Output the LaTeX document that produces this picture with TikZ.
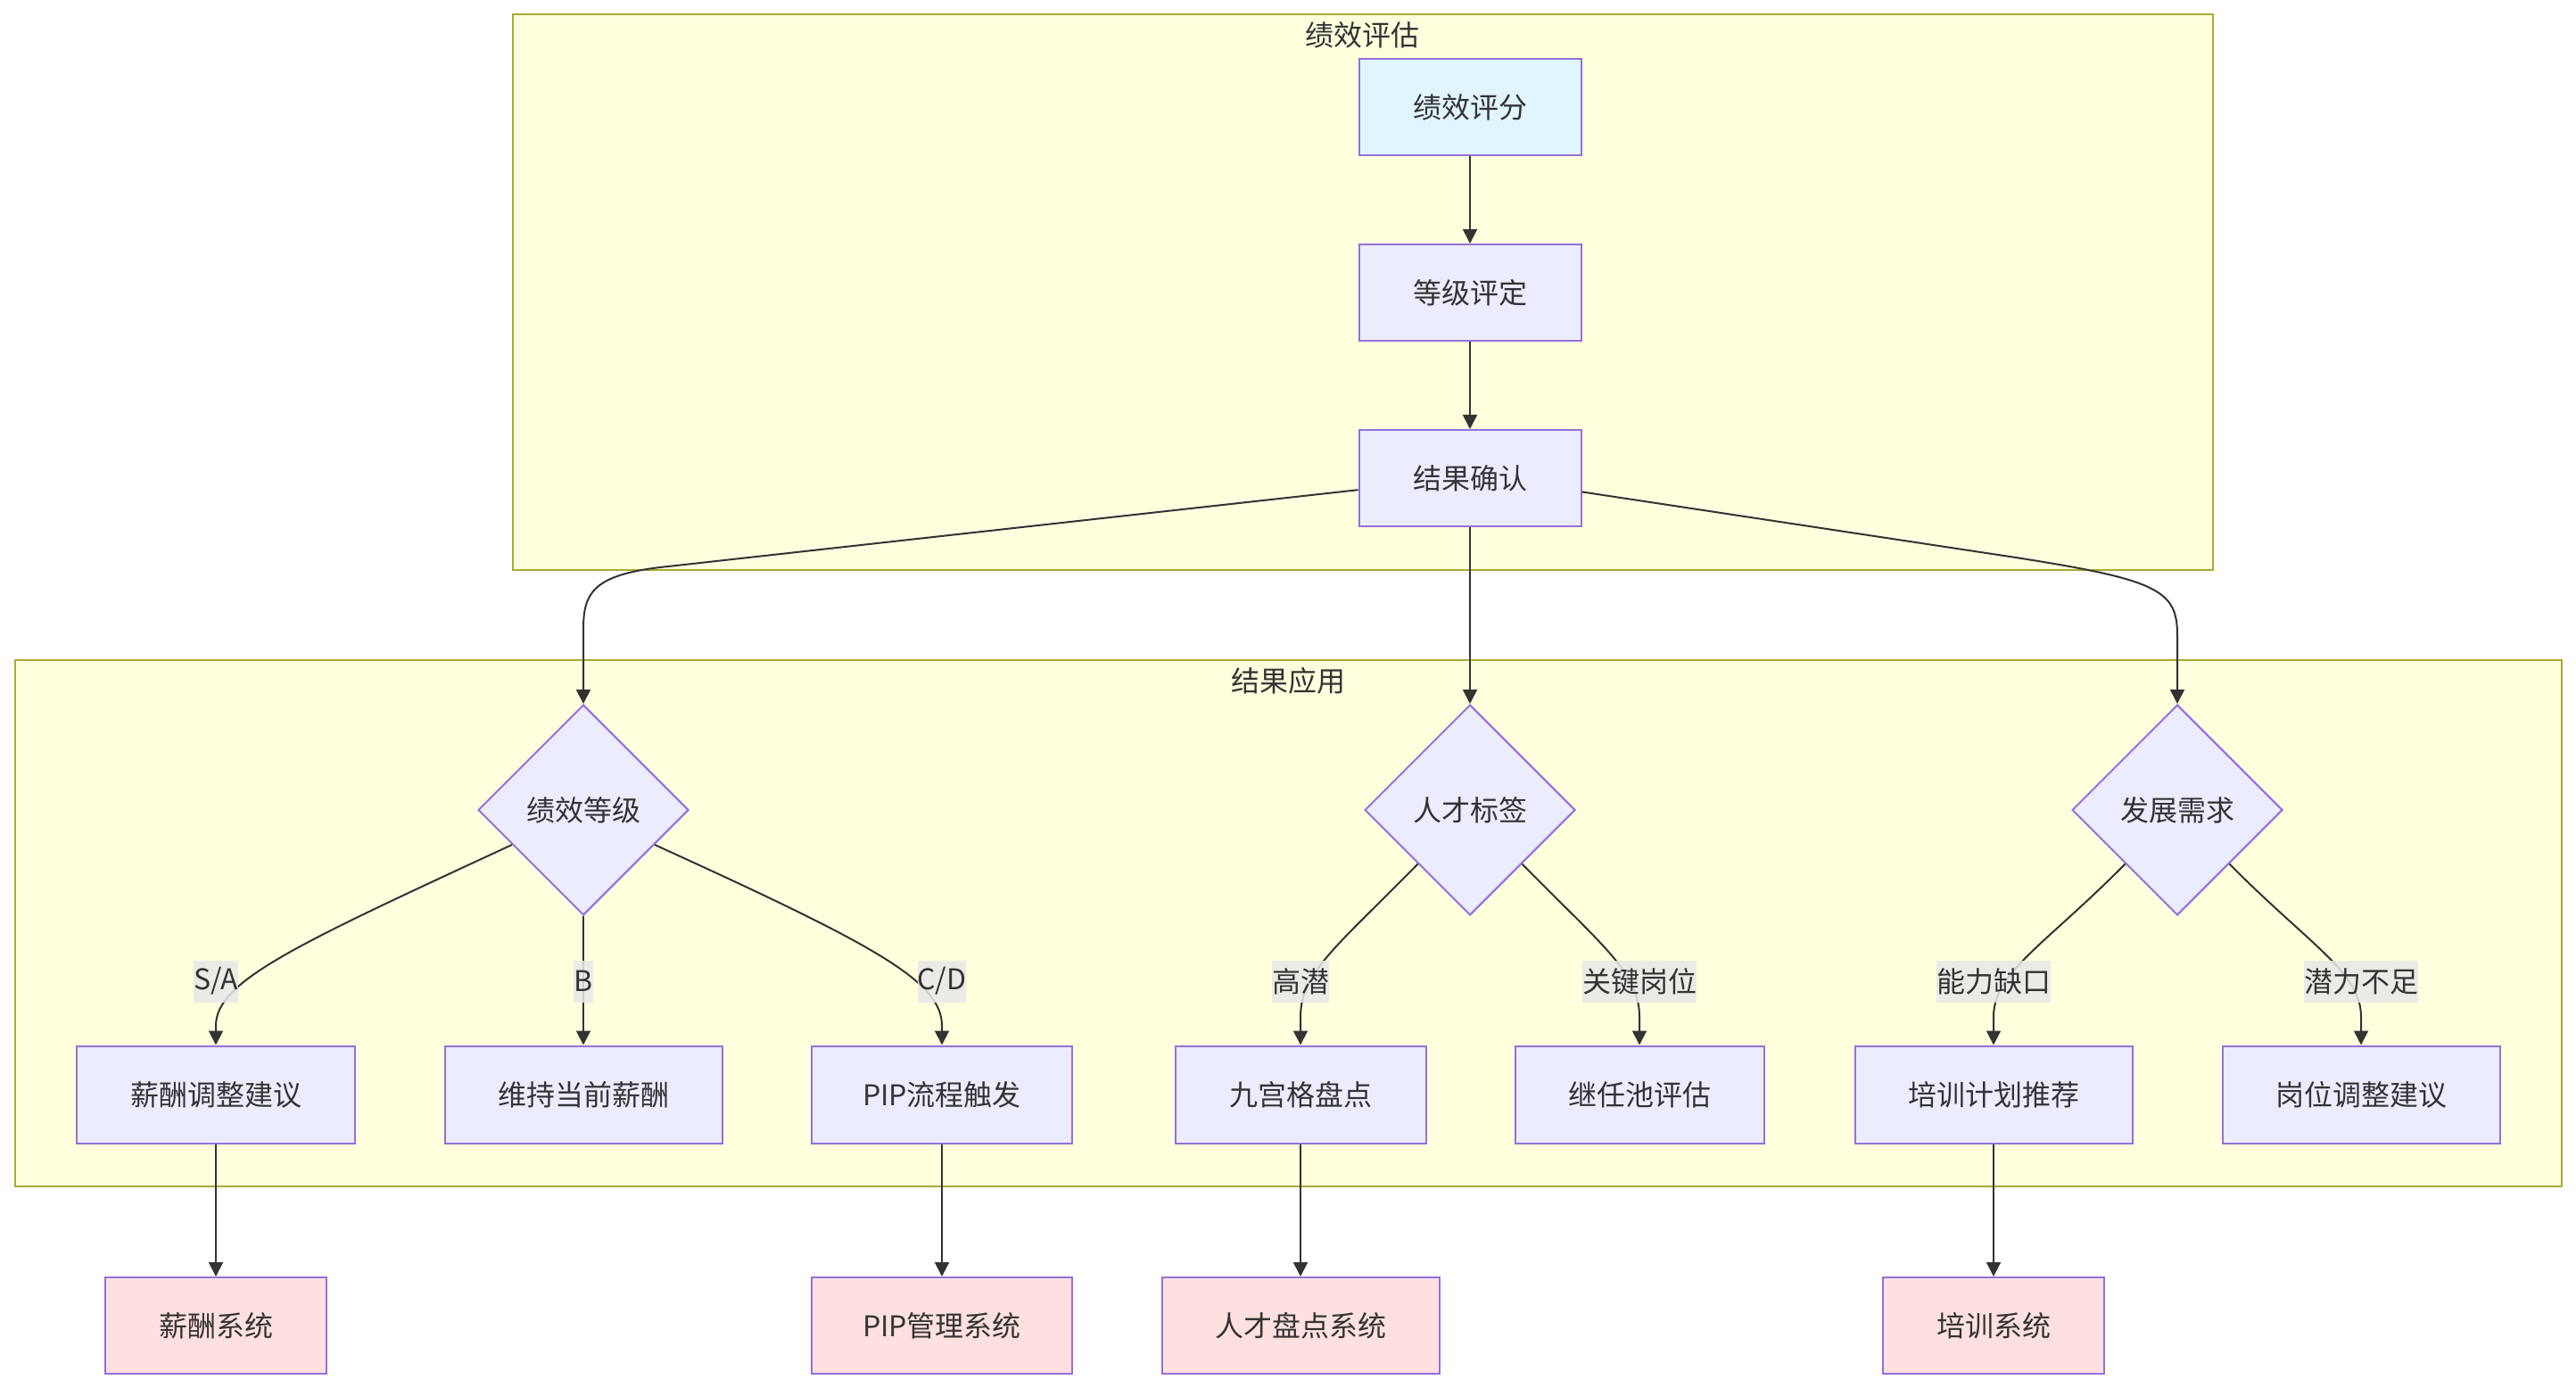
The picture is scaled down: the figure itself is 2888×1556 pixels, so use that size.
\documentclass[tikz,border=0pt]{standalone}
\usepackage{fontspec}
\setmainfont{Noto Sans CJK SC}
\newfontfamily\cjk{Noto Sans CJK SC}
\usetikzlibrary{shapes.geometric,arrows.meta}
\definecolor{nodefill}{HTML}{ECECFF}
\definecolor{nodedraw}{HTML}{9370DB}
\definecolor{bluefill}{HTML}{E1F5FE}
\definecolor{pinkfill}{HTML}{FFE0E0}
\definecolor{clfill}{HTML}{FFFFDE}
\definecolor{cldraw}{HTML}{AAAA33}
\definecolor{txt}{HTML}{333333}
\definecolor{lblbg}{HTML}{E8E8E8}
\tikzset{
  x=0.5pt, y=-0.5pt,
  box/.style={rectangle, draw=nodedraw, fill=nodefill, line width=1pt, text=txt,
    font=\cjk\fontsize{16}{19}\selectfont, inner sep=0pt, minimum height=54pt},
  bluebox/.style={box, fill=bluefill},
  pinkbox/.style={box, fill=pinkfill},
  dia/.style={diamond, draw=nodedraw, fill=nodefill, line width=1pt, text=txt,
    font=\cjk\fontsize{16}{19}\selectfont, inner sep=0pt, minimum width=118pt, minimum height=118pt},
  cluster/.style={draw=cldraw, fill=clfill, line width=1pt},
  cltitle/.style={text=txt, font=\cjk\fontsize{16}{19}\selectfont, inner sep=0pt},
  lbl/.style={fill=lblbg, fill opacity=0.85, text opacity=1, text=txt,
    font=\cjk\fontsize{16}{19}\selectfont, inner xsep=0pt, inner ysep=0pt, minimum height=23.5pt},
  edge/.style={draw=txt, line width=1pt, -{Triangle[length=8pt,width=8pt]}},
}
\begin{document}
\begin{tikzpicture}
\useasboundingbox (0,0) rectangle (2888,1556);
\fill[white] (0,0) rectangle (2888,1556);
% clusters
\draw[cluster] (575,16) rectangle (2481,639);
\draw[cluster] (17,740) rectangle (2872,1330);
\node[cltitle] (t1) at (1527,39) {绩效评估};
\node[cltitle] (t2) at (1444,763) {结果应用};
% top nodes
\node[bluebox, minimum width=124.5pt] (jxpf) at (1648,120) {绩效评分};
\node[box, minimum width=124.5pt] (djpd) at (1648,328) {等级评定};
\node[box, minimum width=124.5pt] (jgqr) at (1648,536) {结果确认};
% diamonds
\node[dia] (jxdj) at (654,908) {绩效等级};
\node[dia] (rcbq) at (1648,908) {人才标签};
\node[dia] (fzxq) at (2441,908) {发展需求};
% level 3
\node[box, minimum width=156pt, minimum height=54.5pt] (xctz) at (242,1227) {薪酬调整建议};
\node[box, minimum width=155.5pt, minimum height=54.5pt] (wcxc) at (654,1227) {维持当前薪酬};
\node[box, minimum width=146pt, minimum height=54.5pt] (pipc) at (1056,1227) {PIP流程触发};
\node[box, minimum width=140.5pt, minimum height=54.5pt] (jgg) at (1458,1227) {九宫格盘点};
\node[box, minimum width=139.5pt, minimum height=54.5pt] (jrc) at (1838,1227) {继任池评估};
\node[box, minimum width=155.5pt, minimum height=54.5pt] (pxjh) at (2235,1227) {培训计划推荐};
\node[box, minimum width=155.5pt, minimum height=54.5pt] (gwtz) at (2647,1227) {岗位调整建议};
% level 4
\node[pinkbox, minimum width=124pt] (xcxt) at (242,1486) {薪酬系统};
\node[pinkbox, minimum width=146pt] (pipx) at (1056,1486) {PIP管理系统};
\node[pinkbox, minimum width=155.5pt] (rcxt) at (1458,1486) {人才盘点系统};
\node[pinkbox, minimum width=124pt] (pxxt) at (2235,1486) {培训系统};
% edges top
\draw[edge] (jxpf.south) -- (djpd.north);
\draw[edge] (djpd.south) -- (jgqr.north);
\draw[edge] (jgqr.186) -- (740,636) .. controls (665,645) and (654,665) .. (654,705) -- (jxdj.north);
\draw[edge] (jgqr.south) -- (rcbq.north);
\draw[edge] (jgqr.-7) -- (2260,625) .. controls (2420,650) and (2441,662) .. (2441,712) -- (fzxq.north);
% edges from diamonds
\draw[edge] (jxdj.206) .. controls (330,1060) and (242,1100) .. (242,1150) -- (xctz.north);
\draw[edge] (jxdj.south) -- (wcxc.north);
\draw[edge] (jxdj.334) .. controls (982,1060) and (1056,1100) .. (1056,1150) -- (pipc.north);
\draw[edge] (rcbq.226) .. controls (1500,1060) and (1458,1090) .. (1458,1140) -- (jgg.north);
\draw[edge] (rcbq.314) .. controls (1796,1060) and (1838,1090) .. (1838,1140) -- (jrc.north);
\draw[edge] (fzxq.226) .. controls (2292,1060) and (2235,1090) .. (2235,1140) -- (pxjh.north);
\draw[edge] (fzxq.314) .. controls (2590,1060) and (2647,1090) .. (2647,1140) -- (gwtz.north);
% edges to systems
\draw[edge] (xctz.south) -- (xcxt.north);
\draw[edge] (pipc.south) -- (pipx.north);
\draw[edge] (jgg.south) -- (rcxt.north);
\draw[edge] (pxjh.south) -- (pxxt.north);
% edge labels
\node[lbl] (l1) at (242,1100) {S/A};
\node[lbl] (l2) at (654,1100) {B};
\node[lbl] (l3) at (1056,1100) {C/D};
\node[lbl] (l4) at (1458,1100) {高潜};
\node[lbl] (l5) at (1838,1100) {关键岗位};
\node[lbl] (l6) at (2235,1100) {能力缺口};
\node[lbl] (l7) at (2647,1100) {潜力不足};
\end{tikzpicture}
\end{document}
